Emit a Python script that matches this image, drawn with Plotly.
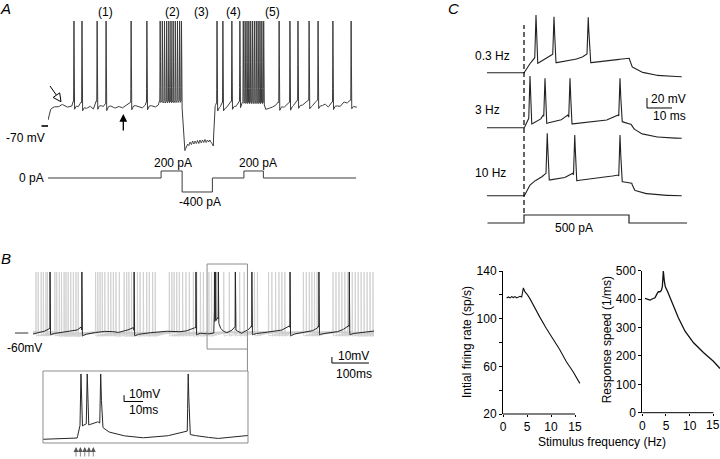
import numpy as np
import plotly.graph_objects as go

W, H = 720, 459
FONT = "Liberation Sans, Arial, Helvetica, sans-serif"

# ======================= DATA =======================
# ---- Panel A: membrane potential (s, mV) and injected current (s, pA)
a_env_t = [0.0, 0.065, 0.17, 0.33, 0.44, 0.61, 0.77, 0.82, 0.98, 1.07, 1.25, 1.36, 1.47, 1.56,
           1.79, 1.86, 2.06, 2.17, 2.28, 2.39, 2.49, 2.60, 2.67, 2.92, 3.03, 3.14, 3.18, 3.46,
           3.57, 3.61, 4.33, 4.36, 4.43, 4.47, 4.52, 4.56, 4.60, 4.64, 4.68, 4.72, 4.76, 4.80,
           4.84, 4.88, 4.92, 4.96, 5.00, 5.04, 5.08, 5.12, 5.16, 5.20, 5.24, 5.28, 5.32, 5.35,
           5.37, 5.40, 5.45, 5.57, 5.64, 5.76, 5.89, 5.93, 6.08, 6.19, 6.30, 6.99, 7.05, 7.18,
           7.35, 7.45, 7.64, 7.80, 7.93, 8.07, 8.22, 8.43, 8.54, 8.72, 8.86, 8.96, 9.07, 9.20,
           9.34, 9.45, 9.56, 9.67, 9.79, 9.94, 10.0]
a_env_mv = [-64, -54, -50.7, -51.3, -48, -51.3, -50, -45, -50, -46, -52, -50, -53, -45,
            -50.7, -47, -50, -52.3, -50, -52.3, -50, -48, -46, -50.7, -52.3, -50, -46, -51.3,
            -49, -44, -43, -60, -94, -91, -88, -89.5, -86, -88.5, -85, -88, -85, -87.5,
            -84.5, -87.5, -84, -87, -84, -86.5, -83.5, -86.5, -84, -86, -84, -87, -88, -90,
            -70, -51, -47, -50, -46, -51, -47, -45, -50, -45, -44, -44, -52.3, -52,
            -50, -46, -51, -46, -49, -44, -49, -44, -49, -44, -49.3, -47.7, -51, -45.7,
            -49, -50.7, -45.7, -47.3, -44, -50.7, -50.7]
a_single_spikes_s = [0.84, 1.10, 1.59, 1.88, 2.69, 3.20, 5.47, 5.66, 5.95, 6.21,
                     7.48, 7.83, 8.09, 8.45, 8.74, 9.22, 9.81]
a_burst_spikes_s = [3.63, 3.70, 3.77, 3.84, 3.91, 3.98, 4.05, 4.12, 4.19, 4.26, 4.32,
                    6.32, 6.38, 6.44, 6.50, 6.56, 6.62, 6.68, 6.74, 6.80, 6.86, 6.92, 6.98]
a_spike_peak_mv = 35
a_cmd_t = [0.0, 3.66, 4.34, 5.32, 6.34, 6.97, 9.97]
a_cmd_pa = [0, 200, -400, 0, 200, 0, 0]
a_cmd_labels = ["0 pA", "200 pA", "-400 pA", "200 pA"]
a_epoch_labels = ["(1)", "(2)", "(3)", "(4)", "(5)"]

# ---- Panel B: overlaid sweeps (ms, mV); black = example sweep
b_black_env_t = [0, 16, 40, 45, 48, 81, 118, 130, 134, 155, 182, 209, 227, 249, 271, 275, 300,
                 325, 352, 379, 406, 432, 439, 442, 455, 470, 488, 489.5, 492, 499, 501, 504,
                 510, 521, 535, 544, 546, 549, 561, 578, 586, 590, 593, 613, 640, 667, 688,
                 693, 696, 721, 748, 766, 771, 774, 802, 829, 847, 853, 856, 892, 920.7]
b_black_env_mv = [-61.7, -60, -55, -52, -61, -59.4, -55.5, -50, -63, -60.5, -57.8, -56.7,
                  -59.4, -56.7, -51, -63, -60.5, -59, -56.7, -57.8, -57.8, -53.3, -50, -61,
                  -60, -62, -60, -40, -36, -33, -38, -48, -55, -60, -57, -50, -49, -54, -61,
                  -56, -52, -48, -61, -60.6, -57.8, -56.7, -49.5, -48, -63, -59.4, -57.8,
                  -53.3, -48, -61, -60.6, -56.7, -51.1, -47, -61, -59.4, -56.7]
b_black_spikes_ms = [46, 132, 273, 440, 490, 493.3, 500.4, 546.5, 591, 694, 772, 854]
b_gray_spikes_ms = [
    [8, 71, 122, 217, 289, 381, 452, 570, 680, 818, 886],
    [14, 77, 169, 224, 298, 388, 460, 598, 730, 826, 894],
    [22, 84, 175, 233, 307, 395, 475, 606, 738, 834, 902],
    [28, 89, 181, 246, 314, 404, 482, 636, 746, 842, 910],
    [35, 95, 187, 253, 323, 413, 515, 645, 753, 850, 918],
    [39, 102, 194, 259, 330, 422, 530, 655, 760, 862],
    [59, 109, 203, 266, 368, 433, 545, 664, 767, 870],
    [64, 116, 210, 282, 375, 442, 558, 672, 810, 878],
]
b_gray_rest_mv = -58
b_spike_peak_mv = 41.7
b_duration_ms = 920.7
b_inset_window_ms = [470, 578]
b_inset_stim_ms = [487.4, 489.7, 492.0, 494.2, 496.5]

# ---- Panel C: responses to a 500 pA step at three stimulus frequencies (ms, mV)
c_env_t = {
    "0.3 Hz": [-14.9, 0.1, 1.1, 2.4, 3.7, 4.3, 5.5, 7, 9.1, 11.1, 11.6, 12.8, 15, 17.1, 22.4,
               24.8, 25.3, 26.7, 30, 33.1, 42.1, 43.1, 46.4, 51.7, 57, 63.1],
    "3 Hz": [-14.9, 0.1, 1.1, 1.9, 3.1, 5, 6.4, 7.7, 9.1, 11.5, 14.4, 17.5, 19.2, 22, 25.1,
             33.1, 37.7, 39.2, 42.1, 42.8, 43.7, 46.4, 51.7, 57, 63.1],
    "10 Hz": [-14.9, 0.1, 1.1, 2.4, 3.7, 6.4, 8.8, 10.1, 13, 15.7, 19.5, 21.1, 25, 30.4,
              37.7, 39.2, 42.1, 43.1, 44, 47.7, 55, 63.1],
}
c_env_mv = {
    "0.3 Hz": [-70, -70, -61.2, -51.2, -44.6, -40, -51.2, -47, -41.2, -34.6, -32, -50, -48.5,
               -46.6, -41.2, -34.6, -32, -50, -47.5, -46, -41.2, -58, -68, -74.6, -77, -78],
    "3 Hz": [-70, -70, -61.2, -51.2, -62.6, -58, -54.6, -44.6, -61.2, -58.5, -56, -44.6, -62.6,
             -61, -59.8, -54.6, -44.6, -58, -61.2, -62.6, -71.2, -81.2, -88, -90.2, -91.2],
    "10 Hz": [-70, -70, -62, -48.6, -42, -35.2, -25.2, -38.6, -37, -35.2, -25.2, -40, -37.5,
              -35.2, -28.6, -42, -44, -45.2, -58.6, -65.2, -69, -70],
}
c_spikes_ms = {"0.3 Hz": [4.8, 12.0, 25.7], "3 Hz": [2.4, 8.4, 18.4, 38.4], "10 Hz": [9.3, 20.3, 38.4]}
c_peaks_mv = {"0.3 Hz": [45.4, 42, 40.8], "3 Hz": [33.4, 28.8, 28.8, 28.8], "10 Hz": [54.8, 51.4, 51.4]}
c_cmd_t = [-14.6, 0, 42, 65.2]
c_cmd_pa = [0, 500, 0, 0]

# ---- Panel C bottom: summary vs stimulus frequency
rate_freq_hz = [0.76, 1.11, 1.46, 1.81, 2.15, 2.5, 2.85, 3.19, 3.54, 3.89, 4.24, 4.58, 5.07,
                5.6, 6.3, 7.64, 9.03, 10.4, 11.8, 13.2, 14.6, 16.0]
rate_sps = [117.4, 118.2, 117.4, 118.5, 117.7, 118.5, 117.4, 118.2, 118.8, 118.2, 125.8, 122.4,
            120.2, 116.8, 111.3, 101.5, 91.7, 82.8, 74.2, 63.8, 55.5, 45.7]
speed_freq_hz = [0.57, 1.06, 1.63, 2.19, 2.68, 3.04, 3.39, 3.74, 4.02, 4.23, 4.44, 4.65, 4.86,
                 5.29, 5.85, 6.56, 7.61, 9.02, 10.78, 12.9, 15.0, 16.4]
speed_per_ms = [402.4, 400, 396.5, 401.2, 404.7, 416.5, 425.9, 425.9, 430.6, 443.5, 498.8, 463.5,
                443.5, 428.2, 404.7, 376.5, 334.1, 287, 247, 211.8, 181.2, 155.3]
freq_ticks = [0, 5, 10, 15]
rate_ticks = [20, 40, 60, 80, 100, 120, 140]
rate_ticktext = ["20", "", "60", "", "100", "", "140"]
speed_ticks = [0, 100, 200, 300, 400, 500]


# ======================= AXIS GEOMETRY (pixel domains, data ranges) =======================
XAX = {  # name: ((left_px, right_px), (r0, r1))
    "x": ((48, 357), (0, 10)),
    "x2": ((33, 374), (0, b_duration_ms)),
    "x3": ((43, 248), tuple(b_inset_window_ms)),
    "x4": ((487, 687), (-14.8, 65.2)),
    "x5": ((503, 580.8), (0, 16.2)),
    "x6": ((642.3, 720), (0, 16.4)),
}
YAX = {  # name: ((top_px, bottom_px), (r0, r1))
    "y": ((15, 160), (-104, 41)),
    "y2": ((160, 200), (-629, 514)),
    "y3": ((255, 350), (-88.3, 70)),
    "y4": ((371, 443), (-67.9, 46.4)),
    "y5": ((10, 80), (-84.6, 55.4)),
    "y6": ((72, 140), (-94.6, 41.4)),
    "y7": ((130, 205), (-88.6, 61.4)),
    "y8": ((208, 228), (-312.5, 937.5)),
    "y9": ((271, 414), (20, 140)),
    "y10": ((270.7, 412.7), (0, 500)),
}


def PX(x):
    return x / W


def PY(y):
    return 1 - y / H


def mx(ax, v):
    (a, b), (r0, r1) = XAX[ax]
    return PX(a + (v - r0) / (r1 - r0) * (b - a))


def my(ax, v):
    (top, bot), (r0, r1) = YAX[ax]
    return PY(bot - (v - r0) / (r1 - r0) * (bot - top))


def xdom(ax):
    (a, b), _ = XAX[ax]
    return [a / W, min(b / W, 1.0)]


def ydom(ax):
    (top, bot), _ = YAX[ax]
    return [max(1 - bot / H, 0.0), min(1 - top / H, 1.0)]


# ======================= HELPERS =======================
def build_trace(env_t, env_v, spikes, peak, rise, fall, ahp=0.0, tau=1.0, step=None):
    env_t = np.asarray(env_t, float)
    env_v = np.asarray(env_v, float)
    spikes = np.asarray(spikes, float)
    peak = np.broadcast_to(np.asarray(peak, float), spikes.shape)
    ahp = np.broadcast_to(np.asarray(ahp, float), spikes.shape)
    parts = [env_t, spikes - rise, spikes, spikes + fall]
    if step:
        parts.append(np.arange(env_t[0], env_t[-1], step))
    t = np.unique(np.concatenate(parts))
    t = t[(t >= env_t[0]) & (t <= env_t[-1])]
    v = np.interp(t, env_t, env_v)
    for ts, a in zip(spikes, ahp):
        if a:
            m = t >= ts + fall
            v[m] -= a * np.exp(-(t[m] - ts - fall) / tau)
    out = v.copy()
    for ts, pk in zip(spikes, peak):
        vb = np.interp(ts - rise, t, v)
        va = np.interp(ts + fall, t, v)
        m1 = (t >= ts - rise) & (t <= ts)
        out[m1] = vb + (pk - vb) * (t[m1] - (ts - rise)) / rise
        m2 = (t > ts) & (t <= ts + fall)
        out[m2] = pk + (va - pk) * (t[m2] - ts) / fall
    return t, out


fig = go.Figure()


def line(x, y, xa, ya, color="#333333", width=1.0, shape="linear"):
    fig.add_trace(go.Scatter(x=x, y=y, xaxis=xa, yaxis=ya, mode="lines",
                             line=dict(color=color, width=width, shape=shape),
                             hoverinfo="skip", showlegend=False))


# ---- Panel A
a_spikes = a_single_spikes_s + a_burst_spikes_s
a_ahp = [7.0] * len(a_single_spikes_s) + [2.5] * len(a_burst_spikes_s)
ta, va = build_trace(a_env_t, a_env_mv, a_spikes, a_spike_peak_mv, 0.012, 0.02,
                     ahp=a_ahp, tau=0.05, step=0.01)
line(ta, va, "x", "y", "#3c3c3c", 1.0)
line(a_cmd_t, a_cmd_pa, "x", "y2", "#3c3c3c", 1.0, "hv")

# ---- Panel B
for sp in b_gray_spikes_ms:
    tg, vg = build_trace([0, b_duration_ms], [b_gray_rest_mv, b_gray_rest_mv], sp,
                         b_spike_peak_mv, 0.6, 1.0, ahp=7.0, tau=30.0, step=1.0)
    line(tg, vg, "x2", "y3", "#cdcdcd", 0.8)
tb, vb = build_trace(b_black_env_t, b_black_env_mv, b_black_spikes_ms, b_spike_peak_mv,
                     0.5, 0.8, ahp=3.0, tau=4.0, step=0.2)
line(tb, vb, "x2", "y3", "#262626", 1.0)
m = (tb >= b_inset_window_ms[0]) & (tb <= b_inset_window_ms[1])
line(tb[m], vb[m], "x3", "y4", "#262626", 1.0)

# ---- Panel C traces
for key, ya in zip(["0.3 Hz", "3 Hz", "10 Hz"], ["y5", "y6", "y7"]):
    tc, vc = build_trace(c_env_t[key], c_env_mv[key], c_spikes_ms[key], c_peaks_mv[key],
                         0.5, 0.7, step=0.2)
    line(tc, vc, "x4", ya, "#222222", 1.1)
line(c_cmd_t, c_cmd_pa, "x4", "y8", "#222222", 1.2, "hv")

# ---- Summary plots
line(rate_freq_hz, rate_sps, "x5", "y9", "#111111", 1.1)
line(speed_freq_hz, speed_per_ms, "x6", "y10", "#111111", 1.3)

hidden = dict(visible=False, fixedrange=True)
tickfont = dict(family=FONT, size=12, color="black")
yax_common = dict(showline=True, linecolor="black", linewidth=1, ticks="outside", ticklen=3,
                  tickcolor="black", tickwidth=1, showgrid=False, zeroline=False,
                  tickfont=tickfont, fixedrange=True)
xax_common = dict(showline=False, ticks="outside", ticklen=2, tickcolor="black",
                  showgrid=False, zeroline=False, tickfont=tickfont, fixedrange=True,
                  tickvals=freq_ticks)

lay = dict(
    width=W, height=H, autosize=False,
    margin=dict(l=0, r=0, t=0, b=0, autoexpand=False),
    paper_bgcolor="white", plot_bgcolor="rgba(0,0,0,0)",
    font=dict(family=FONT, size=12, color="black"),
)
anchors = {"x": "y", "x2": "y3", "x3": "y4", "x4": "y5", "x5": "y9", "x6": "y10",
           "y": "x", "y2": "x", "y3": "x2", "y4": "x3", "y5": "x4", "y6": "x4", "y7": "x4",
           "y8": "x4", "y9": "x5", "y10": "x6"}
for ax in XAX:
    key = "xaxis" + ax[1:]
    extra = xax_common if ax in ("x5", "x6") else hidden
    lay[key] = dict(domain=xdom(ax), range=list(XAX[ax][1]), anchor=anchors[ax], **extra)
for ax in YAX:
    key = "yaxis" + ax[1:]
    extra = yax_common if ax in ("y9", "y10") else hidden
    lay[key] = dict(domain=ydom(ax), range=list(YAX[ax][1]), anchor=anchors[ax], **extra)
lay["yaxis9"].update(tickvals=rate_ticks, ticktext=rate_ticktext)
lay["yaxis10"].update(tickvals=speed_ticks)
# the last frequency label of the right-hand plot sits at the page edge: drawn as annotation
lay["xaxis6"].update(ticktext=[str(v) for v in freq_ticks[:-1]] + [""])
fig.update_layout(**lay)

shapes = []
blk = dict(color="black", width=1)
gry = dict(color="#8c8c8c", width=1)


def seg(x0, y0, x1, y1, ln):
    shapes.append(dict(type="line", xref="paper", yref="paper", x0=x0, y0=y0, x1=x1, y1=y1, line=ln))


def poly(pts, ln, fill=None, close=False):
    p = "M " + " L ".join("%.5f,%.5f" % q for q in pts) + (" Z" if close else "")
    d = dict(type="path", xref="paper", yref="paper", path=p, line=ln)
    if fill:
        d["fillcolor"] = fill
    shapes.append(d)


# Panel A: -70 mV marker
seg(mx("x", -0.21), my("y", -70), mx("x", 0.0), my("y", -70), dict(color="black", width=1.6))
# Panel B: -60 mV marker, zoom box, connector, inset frame, scale bars
seg(mx("x2", -48.6), my("y3", -60), mx("x2", -12.7), my("y3", -60), dict(color="#333", width=1))
poly([(mx("x2", 470), my("y3", -86.7)), (mx("x2", 579), my("y3", -86.7)),
      (mx("x2", 579), my("y3", 55)), (mx("x2", 470), my("y3", 55))], gry, close=True)
seg(mx("x2", 579), my("y3", -86.7), mx("x2", 579), my("y3", -123.3), gry)
poly([(mx("x3", 470), my("y4", -67.9)), (mx("x3", 578), my("y4", -67.9)),
      (mx("x3", 578), my("y4", 46.4)), (mx("x3", 470), my("y4", 46.4))], gry, close=True)
poly([(mx("x2", 807), my("y3", -100)), (mx("x2", 807), my("y3", -110)),
      (mx("x2", 907), my("y3", -110))], blk)
poly([(mx("x3", 512.7), my("y4", 8)), (mx("x3", 512.7), my("y4", -2)),
      (mx("x3", 522.7), my("y4", -2))], blk)
# Panel C: scale bar and stimulus-onset dashed line
poly([(mx("x4", 49.2), my("y6", -10.6)), (mx("x4", 49.2), my("y6", -30.6)),
      (mx("x4", 59.2), my("y6", -30.6))], blk)
seg(mx("x4", 0), PY(213), mx("x4", 0), PY(25), dict(color="black", width=1.2, dash="5px,3px"))
# summary x-axis lines
seg(mx("x5", 0), my("y9", 20), mx("x5", 15), my("y9", 20), blk)
seg(mx("x6", 0), my("y10", 0), mx("x6", 15), my("y10", 0), blk)
# open arrow (panel A)
tip = np.array([61.0, 101.7])
tail = np.array([50.0, 86.0])
d = (tip - tail) / np.linalg.norm(tip - tail)
perp = np.array([-d[1], d[0]])
base = tip - 8 * d
c1 = base + 4 * perp
c2 = base - 4 * perp
seg(PX(tail[0]), PY(tail[1]), PX(base[0]), PY(base[1]), blk)
poly([(PX(tip[0]), PY(tip[1])), (PX(c1[0]), PY(c1[1])), (PX(c2[0]), PY(c2[1]))], blk,
     fill="white", close=True)
fig.update_layout(shapes=shapes)

anns = []


def txt(text, x, y, xanchor="center", size=12, angle=0, pad=1, xref="paper"):
    anns.append(dict(text=text, x=PX(x) if xref == "paper" else x, y=PY(y), xref=xref,
                     yref="paper", xanchor=xanchor, yanchor="middle", showarrow=False,
                     textangle=angle, borderpad=pad,
                     font=dict(family=FONT, size=size, color="black")))


txt("<i>A</i>", 5.5, 8.5, size=15, pad=0)
txt("<i>B</i>", 5.5, 258, size=15, pad=0)
txt("<i>C</i>", 453.5, 8.5, size=15, pad=0)
for lab, x in zip(a_epoch_labels, [105, 172.5, 201.7, 233, 272]):
    txt(lab, x, 12.3)
txt("-70 mV", 26, 138.3)
txt(a_cmd_labels[0], 31, 177.7)
txt(a_cmd_labels[1], 173.3, 163.3)
txt(a_cmd_labels[3], 257.5, 163.3)
txt(a_cmd_labels[2], 199.7, 201.7)
txt("-60mV", 24, 348.3)
txt("10mV", 336, 356, xanchor="left")
txt("100ms", 354, 374)
txt("10mV", 127, 394, xanchor="left")
txt("10ms", 127, 410, xanchor="left")
txt("0.3 Hz", 473, 56, xanchor="left")
txt("3 Hz", 473, 110, xanchor="left")
txt("10 Hz", 473, 172.7, xanchor="left")
txt("20 mV", 649, 99.3, xanchor="left")
txt("10 ms", 651, 115.7, xanchor="left")
txt("500 pA", 574, 228.3)
txt("Stimulus frequency (Hz)", 601.7, 441.7)
txt("Intial firing rate (sp/s)", 467, 342, angle=-90)
txt("Response speed (1/ms)", 607.3, 340, angle=-90)
txt(str(freq_ticks[-1]), mx("x6", freq_ticks[-1]), 425, xanchor="center", pad=0, xref="paper2")
anns[-1]["xref"] = "paper"

# filled arrow (panel A)
anns.append(dict(x=PX(123.3), y=PY(114), xref="paper", yref="paper", ax=0, ay=18, text="",
                 showarrow=True, arrowhead=2, arrowsize=1.2, arrowwidth=1.3, arrowcolor="black"))
# stimulus arrows under inset
for ts in b_inset_stim_ms:
    anns.append(dict(x=mx("x3", ts), xref="paper", y=PY(447), yref="paper", ax=0, ay=11, text="",
                     showarrow=True, arrowhead=2, arrowsize=1.4, arrowwidth=0.7, arrowcolor="#555"))
fig.update_layout(annotations=anns)

fig.write_html("out.html", config={"displayModeBar": False},
               post_script="document.body.style.margin='0';document.body.style.overflow='hidden';")
